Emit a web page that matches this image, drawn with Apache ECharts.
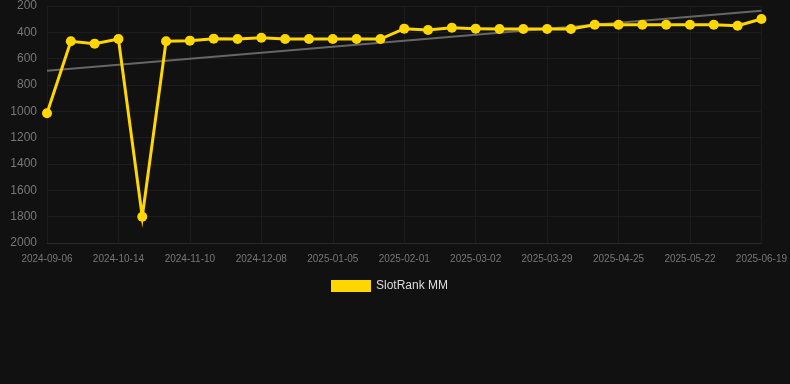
<!DOCTYPE html>
<html>
<head>
<meta charset="utf-8">
<script src="https://cdn.jsdelivr.net/npm/echarts@6/dist/echarts.min.js"></script>
<style>
html,body{margin:0;padding:0;background:#111111;}
#chart{width:790px;height:384px;}
</style>
</head>
<body>
<div id="chart"></div>
<script>
var categories = [
  '2024-09-06','2024-09-19','2024-10-01','2024-10-14','2024-10-23','2024-11-01',
  '2024-11-10','2024-11-19','2024-11-28','2024-12-08','2024-12-17','2024-12-26',
  '2025-01-05','2025-01-14','2025-01-23','2025-02-01','2025-02-11','2025-02-20',
  '2025-03-02','2025-03-11','2025-03-20','2025-03-29','2025-04-07','2025-04-16',
  '2025-04-25','2025-05-04','2025-05-13','2025-05-22','2025-05-31','2025-06-10',
  '2025-06-19'
];
var rankValues = [
  1015, 468, 486, 451, 1800, 468,
  463, 448, 451, 441, 451, 451,
  451, 451, 451, 372, 382, 365,
  372, 375, 375, 375, 375, 342,
  342, 342, 342, 342, 342, 350,
  299
];
var trendStart = 692;
var trendEnd = 236;
var yTicks = { min: 200, max: 2000, interval: 200 };
var seriesName = 'SlotRank MM';

var trendData = categories.map(function (c, i) {
  if (i === 0) return trendStart;
  if (i === categories.length - 1) return trendEnd;
  return null;
});

var chart = echarts.init(document.getElementById('chart'));
chart.setOption({
  backgroundColor: '#111111',
  animation: false,
  grid: { left: 47, right: 28, top: 6, bottom: 141 },
  legend: {
    top: 275,
    left: 326,
    data: [{ name: seriesName, icon: 'rect' }],
    itemWidth: 40,
    itemHeight: 12,
    itemGap: 10,
    textStyle: { color: '#dddddd', fontSize: 12, fontFamily: 'Liberation Sans, Arial, sans-serif' }
  },
  xAxis: {
    type: 'category',
    data: categories,
    boundaryGap: false,
    axisLine: { show: true, lineStyle: { color: '#2a2a2a', width: 1 } },
    axisTick: { show: false },
    axisLabel: { interval: 2, color: '#777777', fontSize: 10, margin: 11, fontFamily: 'Liberation Sans, Arial, sans-serif' },
    splitLine: { show: true, interval: 2, lineStyle: { color: '#1c1c1c', width: 1 } }
  },
  yAxis: {
    type: 'value',
    inverse: true,
    min: yTicks.min,
    max: yTicks.max,
    interval: yTicks.interval,
    axisLine: { show: false },
    axisTick: { show: false },
    axisLabel: {
      color: '#777777', fontSize: 12, margin: 10,
      fontFamily: 'Liberation Sans, Arial, sans-serif',
      formatter: function (v) { return String(v); }
    },
    splitLine: { lineStyle: { color: '#1c1c1c', width: 1 } }
  },
  series: [
    {
      name: 'trend',
      type: 'line',
      data: trendData,
      connectNulls: true,
      symbol: 'none',
      silent: true,
      lineStyle: { color: '#666666', width: 2 },
      z: 1
    },
    {
      name: seriesName,
      type: 'line',
      data: rankValues,
      symbol: 'circle',
      symbolSize: 10,
      itemStyle: { color: '#FFD700' },
      lineStyle: { color: '#FFD700', width: 3, join: 'miter' },
      z: 2
    }
  ]
});
</script>
</body>
</html>
